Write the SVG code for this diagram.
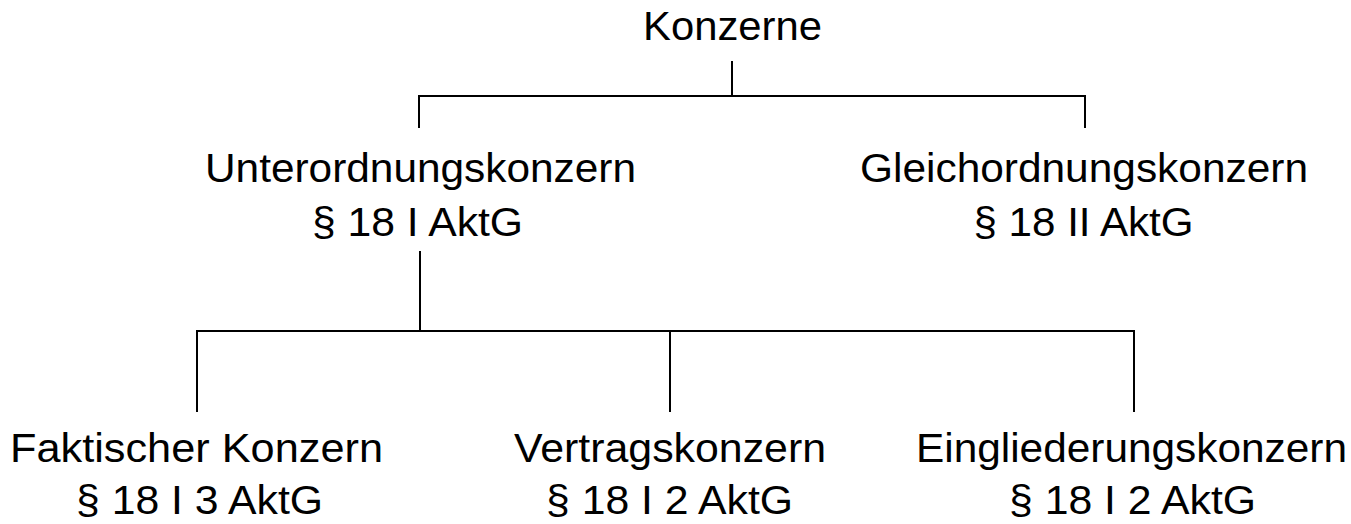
<svg xmlns="http://www.w3.org/2000/svg" width="1351" height="524" viewBox="0 0 1351 524">
<style>
text{font-family:"Liberation Sans",Arial,sans-serif;font-size:40px;fill:#000;text-anchor:middle}
.c line{stroke:#000;stroke-width:2}
</style>
<rect width="1351" height="524" fill="#fff"/>
<g class="c" id="connectors">
<line x1="732" y1="61" x2="732" y2="96"/>
<line x1="419" y1="96" x2="1085" y2="96"/>
<line x1="419" y1="95" x2="419" y2="128"/>
<line x1="1085" y1="95" x2="1085" y2="128"/>
<line x1="420" y1="251" x2="420" y2="331"/>
<line x1="197" y1="331" x2="1134" y2="331"/>
<line x1="197" y1="330" x2="197" y2="412"/>
<line x1="670" y1="330" x2="670" y2="412"/>
<line x1="1134" y1="330" x2="1134" y2="412"/>
</g>
<g id="konzerne"><text x="732.5" y="40" textLength="179" lengthAdjust="spacingAndGlyphs">Konzerne</text></g>
<g id="unterordnung"><text x="420.5" y="182" textLength="431" lengthAdjust="spacingAndGlyphs">Unterordnungskonzern</text><text x="417.5" y="236" textLength="211" lengthAdjust="spacingAndGlyphs">§ 18 I AktG</text></g>
<g id="gleichordnung"><text x="1084" y="182" textLength="448" lengthAdjust="spacingAndGlyphs">Gleichordnungskonzern</text><text x="1083.5" y="236" textLength="220" lengthAdjust="spacingAndGlyphs">§ 18 II AktG</text></g>
<g id="faktisch"><text x="196.5" y="462" textLength="373" lengthAdjust="spacingAndGlyphs">Faktischer Konzern</text><text x="199.5" y="514" textLength="247" lengthAdjust="spacingAndGlyphs">§ 18 I 3 AktG</text></g>
<g id="vertrag"><text x="670" y="462" textLength="312" lengthAdjust="spacingAndGlyphs">Vertragskonzern</text><text x="669.5" y="514" textLength="247" lengthAdjust="spacingAndGlyphs">§ 18 I 2 AktG</text></g>
<g id="eingliederung"><text x="1131.5" y="462" textLength="431" lengthAdjust="spacingAndGlyphs">Eingliederungskonzern</text><text x="1132.5" y="514" textLength="247" lengthAdjust="spacingAndGlyphs">§ 18 I 2 AktG</text></g>
</svg>
